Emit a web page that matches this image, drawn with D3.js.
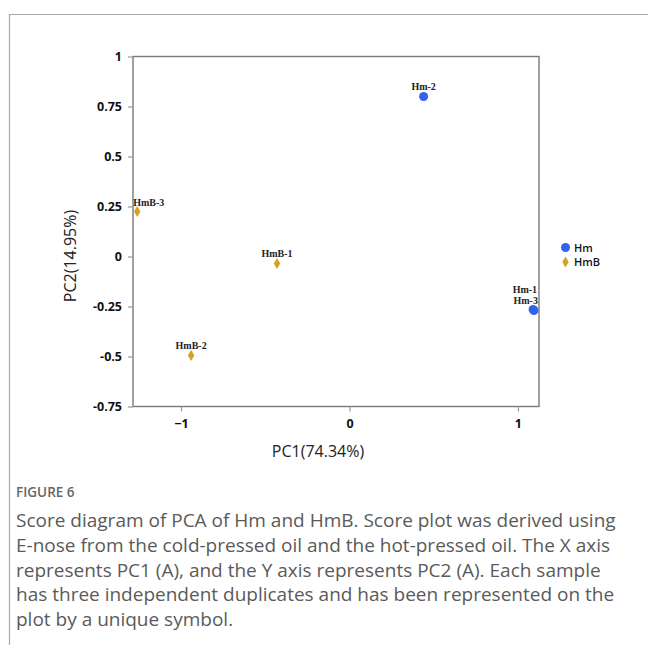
<!DOCTYPE html>
<html>
<head>
<meta charset="utf-8">
<script src="https://cdn.jsdelivr.net/npm/d3@7"></script>
<style>
  body { margin: 0; background: #fff; }
  svg { display: block; }
</style>
</head>
<body>
<div id="chart"></div>
<script>
// sample scores
var samples = ['Hm-1', 'Hm-2', 'Hm-3', 'HmB-1', 'HmB-2', 'HmB-3'];
var groups = ['Hm', 'Hm', 'Hm', 'HmB', 'HmB', 'HmB'];
var pc1 = [1.09, 0.44, 1.095, -0.43, -0.94, -1.26];
var pc2 = [-0.265, 0.80, -0.27, -0.035, -0.495, 0.225];

var xTicks = [-1, 0, 1];
var yTicks = [-0.75, -0.5, -0.25, 0, 0.25, 0.5, 0.75, 1];
var legendNames = ['Hm', 'HmB'];

var captionHead = 'FIGURE 6';
var captionLines = [
    'Score diagram of PCA of Hm and HmB. Score plot was derived using',
    'E-nose from the cold-pressed oil and the hot-pressed oil. The X axis',
    'represents PC1 (A), and the Y axis represents PC2 (A). Each sample',
    'has three independent duplicates and has been represented on the',
    'plot by a unique symbol.'
];

var width = 648, height = 645;
var colors = { 'Hm': '#3262ee', 'HmB': '#d6a023' };

// where each point label sits relative to its marker
var labelPos = {
    'Hm-1':  { anchor: 'end', dx: 4, dy: -16.5 },
    'Hm-3':  { anchor: 'end', dx: 4, dy: -7 },
    'Hm-2':  { anchor: 'middle', dx: 0, dy: -7 },
    'HmB-1': { anchor: 'middle', dx: 0, dy: -7 },
    'HmB-2': { anchor: 'middle', dx: 0, dy: -7 },
    'HmB-3': { anchor: 'start', dx: -4, dy: -6 }
};

var svg = d3.select('#chart').append('svg')
    .attr('width', width)
    .attr('height', height);

// page frame lines
svg.append('line')
    .attr('x1', 9).attr('y1', 14.5).attr('x2', width).attr('y2', 14.5)
    .style('stroke', '#aaa').style('stroke-width', 1.2);
svg.append('line')
    .attr('x1', 9.5).attr('y1', 14).attr('x2', 9.5).attr('y2', height)
    .style('stroke', '#aaa').style('stroke-width', 1.2);

var x = d3.scaleLinear().domain([-1.285, 1.125]).range([133, 539]);
var y = d3.scaleLinear().domain([-0.75, 1]).range([406.5, 56.5]);

// frame of the plot
svg.append('rect')
    .attr('x', x.range()[0]).attr('y', y.range()[1])
    .attr('width', x.range()[1] - x.range()[0])
    .attr('height', y.range()[0] - y.range()[1])
    .style('fill', 'none').style('stroke', '#7a7a7a').style('stroke-width', 1.4);

var xAxis = svg.append('g')
    .attr('transform', 'translate(0,' + y.range()[0] + ')')
    .call(d3.axisBottom(x).tickValues(xTicks).tickSize(5).tickSizeOuter(0).tickPadding(8)
        .tickFormat(d3.format('d')));
var yAxis = svg.append('g')
    .attr('transform', 'translate(' + x.range()[0] + ',0)')
    .call(d3.axisLeft(y).tickValues(yTicks).tickSize(5).tickSizeOuter(0).tickPadding(6)
        .tickFormat(function(d) { return String(d); }));

[xAxis, yAxis].forEach(function(g) {
    g.select('.domain').remove();
    g.selectAll('line').style('stroke', '#999').style('stroke-width', 1.2);
    g.selectAll('text')
        .style('font-family', '"Open Sans", sans-serif')
        .style('font-weight', 700)
        .style('font-size', '12.5px')
        .style('fill', '#111');
});

// axis titles
svg.append('text')
    .attr('x', 318).attr('y', 457)
    .attr('text-anchor', 'middle')
    .style('font-family', '"Open Sans", sans-serif')
    .style('font-size', '16px')
    .style('fill', '#222')
    .text('PC1(74.34%)');
svg.append('text')
    .attr('transform', 'translate(76,256) rotate(-90)')
    .attr('text-anchor', 'middle')
    .style('font-family', '"Open Sans", sans-serif')
    .style('font-size', '16px')
    .style('fill', '#222')
    .text('PC2(14.95%)');

var circle = d3.symbol().type(d3.symbolCircle).size(64);
var diamond = d3.symbol().type(d3.symbolDiamond).size(36);
function shapeFor(g) { return g === 'Hm' ? circle() : diamond(); }

// points
samples.forEach(function(name, i) {
    svg.append('path')
        .attr('d', shapeFor(groups[i]))
        .attr('transform', 'translate(' + x(pc1[i]) + ',' + y(pc2[i]) + ')')
        .style('fill', colors[groups[i]]);
});

// point labels
samples.forEach(function(name, i) {
    var p = labelPos[name];
    svg.append('text')
        .attr('x', x(pc1[i]) + p.dx)
        .attr('y', y(pc2[i]) + p.dy)
        .attr('text-anchor', p.anchor)
        .style('font-family', '"Liberation Serif", "Times New Roman", serif')
        .style('font-weight', 700)
        .style('font-size', '10px')
        .style('fill', '#222')
        .text(name);
});

// legend
legendNames.forEach(function(name, i) {
    var ly = 247.5 + i * 14.5;
    svg.append('path')
        .attr('d', shapeFor(name))
        .attr('transform', 'translate(565.5,' + ly + ')')
        .style('fill', colors[name]);
    svg.append('text')
        .attr('x', 574).attr('y', ly + 4)
        .style('font-family', '"Open Sans", sans-serif')
        .style('font-weight', 600)
        .style('font-size', '11px')
        .style('fill', '#111')
        .text(name);
});

// caption
svg.append('text')
    .attr('x', 16).attr('y', 497)
    .style('font-family', '"Open Sans", sans-serif')
    .style('font-weight', 600)
    .style('font-size', '13.5px')
    .style('fill', '#666')
    .text(captionHead);
captionLines.forEach(function(line, i) {
    svg.append('text')
        .attr('x', 16).attr('y', 527 + i * 24.8)
        .style('font-family', '"Open Sans", sans-serif')
        .style('font-size', '19px')
        .style('fill', '#5a5a5a')
        .text(line);
});
</script>
</body>
</html>
